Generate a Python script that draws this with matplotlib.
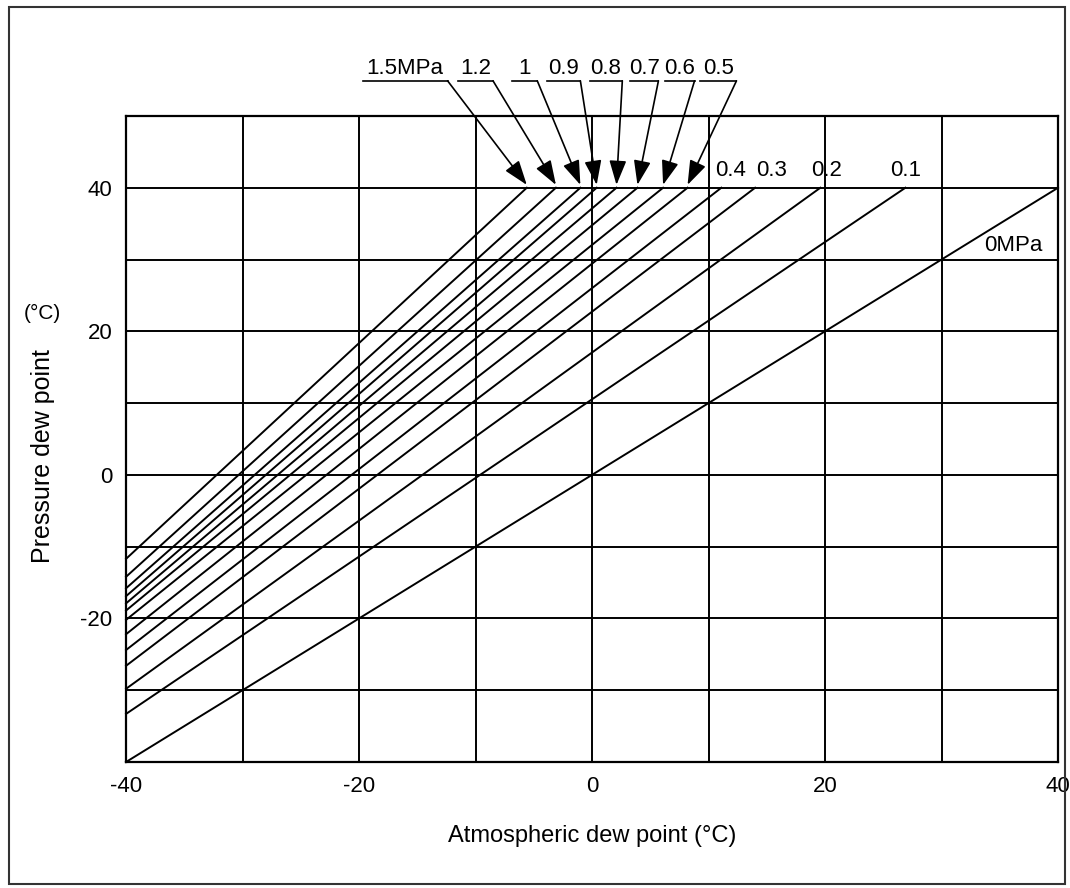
import matplotlib
matplotlib.use("Agg")
import matplotlib.pyplot as plt
from matplotlib.patches import Rectangle

plt.rcParams['font.family'] = ['Liberation Sans', 'DejaVu Sans']

# gauge pressure of each line (MPa)
pressures = [1.5, 1.2, 1.0, 0.9, 0.8, 0.7, 0.6, 0.5, 0.4, 0.3, 0.2, 0.1, 0.0]
# pressure dew point where the line meets atmospheric dew point -40
y_at_left = [-11.7, -14.2, -15.8, -16.9, -17.9, -18.9, -20.2, -22.2, -24.4, -26.6, -29.8, -33.3, -40.0]
# atmospheric dew point where the line reaches pressure dew point 40
x_at_top = [-5.6, -3.1, -1.0, 0.4, 2.1, 3.9, 6.1, 8.2, 11.1, 14.0, 19.6, 26.9, 40.0]

arrow_labels = ["1.5MPa", "1.2", "1", "0.9", "0.8", "0.7", "0.6", "0.5"]
plain_labels = ["0.4", "0.3", "0.2", "0.1"]

x_ticks = [-40, -20, 0, 20, 40]
y_ticks = [-20, 0, 20, 40]

# layout of the leader labels above the plot (data units)
ul_left = [-19.7, -11.5, -6.9, -3.9, -0.2, 3.3, 6.3, 9.3]
ul_right = [-12.4, -8.5, -4.7, -1.0, 2.6, 5.7, 8.8, 12.4]
plain_pos = [11.85, 15.4, 20.1, 26.9]

fig = plt.figure(figsize=(10.7, 8.88), dpi=100)
ax = fig.add_axes([0.1178, 0.1419, 0.8710, 0.7275])

fs = 16
for i in range(len(pressures)):
    ax.plot([-40, x_at_top[i]], [y_at_left[i], 40], color="black", lw=1.4, clip_on=False)

ax.set_xlim(-40, 40)
ax.set_ylim(-40, 50)
ax.set_xticks(range(-40, 41, 10))
ax.set_yticks(range(-40, 51, 10))
ax.set_xticklabels([str(v) if v in x_ticks else "" for v in range(-40, 41, 10)], fontsize=fs)
ax.set_yticklabels([str(v) if v in y_ticks else "" for v in range(-40, 51, 10)], fontsize=fs)
ax.tick_params(length=0, pad=10)
ax.grid(True, color="black", lw=1.4)
for s in ax.spines.values():
    s.set_linewidth(1.6)

# leaders with arrows for the crowded lines
for i, lab in enumerate(arrow_labels):
    cx = (ul_left[i] + ul_right[i]) / 2
    ax.text(cx, 56.6, lab, ha="center", va="center", fontsize=fs, clip_on=False)
    ax.plot([ul_left[i], ul_right[i]], [54.9, 54.9], color="black", lw=1.2, clip_on=False)
    ax.annotate("", xy=(x_at_top[i], 40.4), xytext=(ul_right[i], 54.9),
                arrowprops=dict(arrowstyle="-|>,head_length=1.0,head_width=0.35",
                                mutation_scale=15, color="black", lw=1.2,
                                shrinkA=0, shrinkB=0),
                annotation_clip=False)

for i, lab in enumerate(plain_labels):
    ax.text(plain_pos[i], 42.4, lab, ha="center", va="center", fontsize=fs)
ax.text(36.2, 31.9, "0MPa", ha="center", va="center", fontsize=fs)

ax.set_xlabel("Atmospheric dew point (°C)", fontsize=17, labelpad=20)
fig.text(43 / 1070, 1 - 456 / 888, "Pressure dew point", rotation=90,
         ha="center", va="center", fontsize=18)
fig.text(42 / 1070, 1 - 313 / 888, "(°C)", ha="center", va="center", fontsize=15)

# outer frame
fig.patches.append(Rectangle((9 / 1070, 1 - 884 / 888), 1056 / 1070, 877 / 888,
                             transform=fig.transFigure, fill=False,
                             edgecolor="#333333", lw=1.5))

fig.savefig("out.png", dpi=100)
